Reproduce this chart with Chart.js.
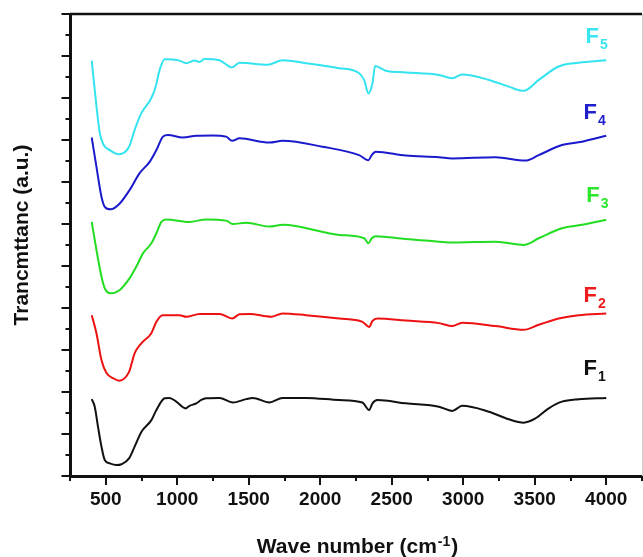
<!DOCTYPE html>
<html><head><meta charset="utf-8">
<script src="https://cdn.jsdelivr.net/npm/chart.js@4.4.0/dist/chart.umd.min.js"></script>
<style>html,body{margin:0;padding:0;background:#fff;}canvas{display:block;}</style>
</head><body>
<canvas id="c" width="643" height="557"></canvas>
<script>
// ---- data (wavenumber in cm-1, transmittance in stacked arbitrary units) ----
const wnF1 = [402,423,446,470,493,528,575,610,663,702,749,819,854,912,946,993,1058,1086,1133,1168,1202,1295,1388,1482,1528,1644,1737,1900,2132,2295,2342,2365,2400,2598,2830,2923,2993,3179,3318,3423,3505,3598,3690,3807,4000];
const trF1 = [1.83,1.65,1.17,0.70,0.38,0.30,0.26,0.28,0.42,0.70,1.05,1.33,1.57,1.85,1.86,1.77,1.61,1.67,1.73,1.81,1.85,1.86,1.75,1.83,1.86,1.75,1.86,1.86,1.81,1.75,1.57,1.73,1.81,1.73,1.65,1.55,1.67,1.53,1.35,1.27,1.37,1.61,1.77,1.83,1.86];
const wnF2 = [402,435,470,505,551,593,663,702,749,819,854,896,1016,1063,1156,1295,1384,1435,1505,1656,1737,1900,2132,2295,2342,2365,2400,2598,2830,2923,2993,3226,3423,3528,3667,3807,4000];
const trF2 = [3.83,3.40,2.76,2.45,2.33,2.27,2.48,2.92,3.16,3.40,3.67,3.83,3.83,3.79,3.86,3.86,3.75,3.85,3.86,3.79,3.87,3.83,3.75,3.67,3.55,3.69,3.75,3.70,3.64,3.57,3.65,3.57,3.48,3.60,3.75,3.83,3.87];
const wnF3 = [402,435,470,493,533,598,667,725,760,819,854,889,923,1086,1202,1342,1388,1482,1644,1737,2132,2307,2337,2360,2388,2598,2830,2923,3226,3423,3528,3690,3830,4000];
const trF3 = [6.05,5.38,4.75,4.47,4.35,4.43,4.71,5.06,5.30,5.54,5.78,6.05,6.11,6.05,6.11,6.08,6.00,6.03,5.94,5.98,5.74,5.66,5.54,5.66,5.71,5.64,5.58,5.56,5.58,5.50,5.66,5.90,5.98,6.10];
const wnF4 = [402,435,470,493,533,598,667,737,807,854,900,935,1039,1133,1249,1342,1384,1435,1644,1737,2016,2272,2337,2360,2388,2598,2830,2923,3226,3435,3528,3690,3830,4000];
const trF4 = [8.06,7.36,6.65,6.41,6.35,6.49,6.81,7.21,7.48,7.76,8.08,8.12,8.06,8.10,8.11,8.08,7.98,8.04,7.94,7.98,7.84,7.64,7.52,7.64,7.72,7.63,7.59,7.56,7.59,7.51,7.64,7.88,7.96,8.10];
const wnF5 = [402,423,458,486,528,593,663,702,749,819,849,877,912,1016,1063,1121,1156,1191,1295,1384,1435,1632,1737,1900,2132,2272,2307,2337,2365,2384,2458,2598,2830,2923,2993,3179,3318,3423,3528,3667,3807,4000];
const trF5 = [9.89,9.19,8.17,7.88,7.76,7.66,7.84,8.24,8.64,9.00,9.27,9.67,9.92,9.89,9.83,9.89,9.86,9.93,9.90,9.73,9.84,9.79,9.90,9.83,9.71,9.59,9.43,9.11,9.35,9.76,9.65,9.61,9.55,9.47,9.56,9.43,9.27,9.17,9.43,9.75,9.84,9.90];

const seriesMain = ['F','F','F','F','F'];
const seriesSub = ['1','2','3','4','5'];
const xTickValues = [500,1000,1500,2000,2500,3000,3500,4000];
const xTitleMain = 'Wave number (cm';
const xTitleSup = '-1';
const xTitleEnd = ')';
const yTitle = 'Trancmttanc (a.u.)';

const colors = ['#111111','#ee1111','#22dd22','#1a1acc','#33e3ef'];
const labelColors = ['#111111','#ee1c1c','#2ee62e','#1f1fcc','#3ae6f0'];
// label anchor (wavenumber, y units) for each curve
const labelPos = [[3841,2.40],[3841,4.14],[3860,6.52],[3841,8.50],[3855,10.31]];

const wns = [wnF1,wnF2,wnF3,wnF4,wnF5];
const trs = [trF1,trF2,trF3,trF4,trF5];
const datasets = wns.map((wn,i)=>({
  label: seriesMain[i]+seriesSub[i],
  data: wn.map((w,j)=>({x:w,y:trs[i][j]})),
  borderColor: colors[i],
  borderWidth: 2,
  pointRadius: 0,
  fill: false,
  cubicInterpolationMode: 'monotone'
}));

const FONT = '"Liberation Sans", Arial, Helvetica, sans-serif';

const decor = {
  id: 'decor',
  afterDraw(chart){
    const {ctx, chartArea:{left,right,top,bottom}, scales:{x,y}} = chart;
    ctx.save();
    // top frame
    ctx.strokeStyle = '#111'; ctx.lineWidth = 2.5;
    ctx.beginPath(); ctx.moveTo(left, top); ctx.lineTo(right, top); ctx.stroke();
    // right frame (light)
    ctx.strokeStyle = '#cfcfcf'; ctx.lineWidth = 1;
    ctx.beginPath(); ctx.moveTo(right+0.5, top); ctx.lineTo(right+0.5, bottom); ctx.stroke();
    // y ticks
    ctx.strokeStyle = '#111'; ctx.lineWidth = 2;
    for (let v = 0; v <= 11.001; v += 0.5) {
      const py = Math.round(y.getPixelForValue(v));
      const len = (Math.abs(v - Math.round(v)) < 1e-6) ? 8.5 : 4.5;
      ctx.beginPath(); ctx.moveTo(left - len, py); ctx.lineTo(left, py); ctx.stroke();
    }
    // x ticks
    for (let v = 250; v <= 4250; v += 250) {
      const px = Math.round(x.getPixelForValue(v));
      const len = (v % 500 === 0) ? 9 : 5;
      ctx.beginPath(); ctx.moveTo(px, bottom); ctx.lineTo(px, bottom + len); ctx.stroke();
    }
    // curve labels
    ctx.textBaseline = 'alphabetic'; ctx.textAlign = 'left';
    labelPos.forEach((p,i)=>{
      const px = x.getPixelForValue(p[0]);
      const py = y.getPixelForValue(p[1]);
      ctx.fillStyle = labelColors[i];
      ctx.font = 'bold 22px ' + FONT;
      ctx.fillText(seriesMain[i], px, py);
      const w = ctx.measureText(seriesMain[i]).width;
      ctx.font = 'bold 14px ' + FONT;
      ctx.fillText(seriesSub[i], px + w + 1, py + 6);
    });
    // x title with superscript
    ctx.fillStyle = '#111';
    ctx.font = 'bold 21px ' + FONT;
    const w1 = ctx.measureText(xTitleMain).width;
    const w3 = ctx.measureText(xTitleEnd).width;
    ctx.font = 'bold 14px ' + FONT;
    const w2 = ctx.measureText(xTitleSup).width;
    const total = w1 + w2 + w3 + 2;
    let sx = 357.5 - total / 2;
    const base = 553;
    ctx.font = 'bold 21px ' + FONT;
    ctx.fillText(xTitleMain, sx, base);
    ctx.font = 'bold 14px ' + FONT;
    ctx.fillText(xTitleSup, sx + w1 + 1, base - 7);
    ctx.font = 'bold 21px ' + FONT;
    ctx.fillText(xTitleEnd, sx + w1 + w2 + 2, base);
    // y title
    ctx.translate(22, 235);
    ctx.rotate(-Math.PI / 2);
    ctx.textAlign = 'center'; ctx.textBaseline = 'middle';
    ctx.font = 'bold 21px ' + FONT;
    ctx.fillText(yTitle, 0, 0);
    ctx.restore();
  }
};

new Chart(document.getElementById('c'), {
  type: 'line',
  data: { datasets },
  options: {
    responsive: false,
    animation: false,
    devicePixelRatio: 1,
    layout: { padding: { left: 0, top: 14, right: 1, bottom: 0 } },
    plugins: { legend: { display: false }, tooltip: { enabled: false } },
    scales: {
      x: {
        type: 'linear', min: 250, max: 4250,
        afterBuildTicks: (s) => { s.ticks = xTickValues.map(v => ({ value: v })); },
        afterFit: (s) => { s.height = 81; },
        grid: { display: true, drawOnChartArea: false, drawTicks: false },
        border: { display: true, color: '#111', width: 3 },
        ticks: { color: '#111', padding: 12, maxRotation: 0, autoSkip: false,
          callback: (v) => String(v),
          font: { family: FONT, size: 19, weight: 'bold' } },
        title: { display: false }
      },
      y: {
        type: 'linear', min: 0, max: 11,
        afterFit: (s) => { s.width = 70; },
        grid: { display: true, drawOnChartArea: false, drawTicks: false },
        border: { display: true, color: '#111', width: 3 },
        ticks: { display: false },
        title: { display: false }
      }
    }
  },
  plugins: [decor]
});
</script>
</body></html>
